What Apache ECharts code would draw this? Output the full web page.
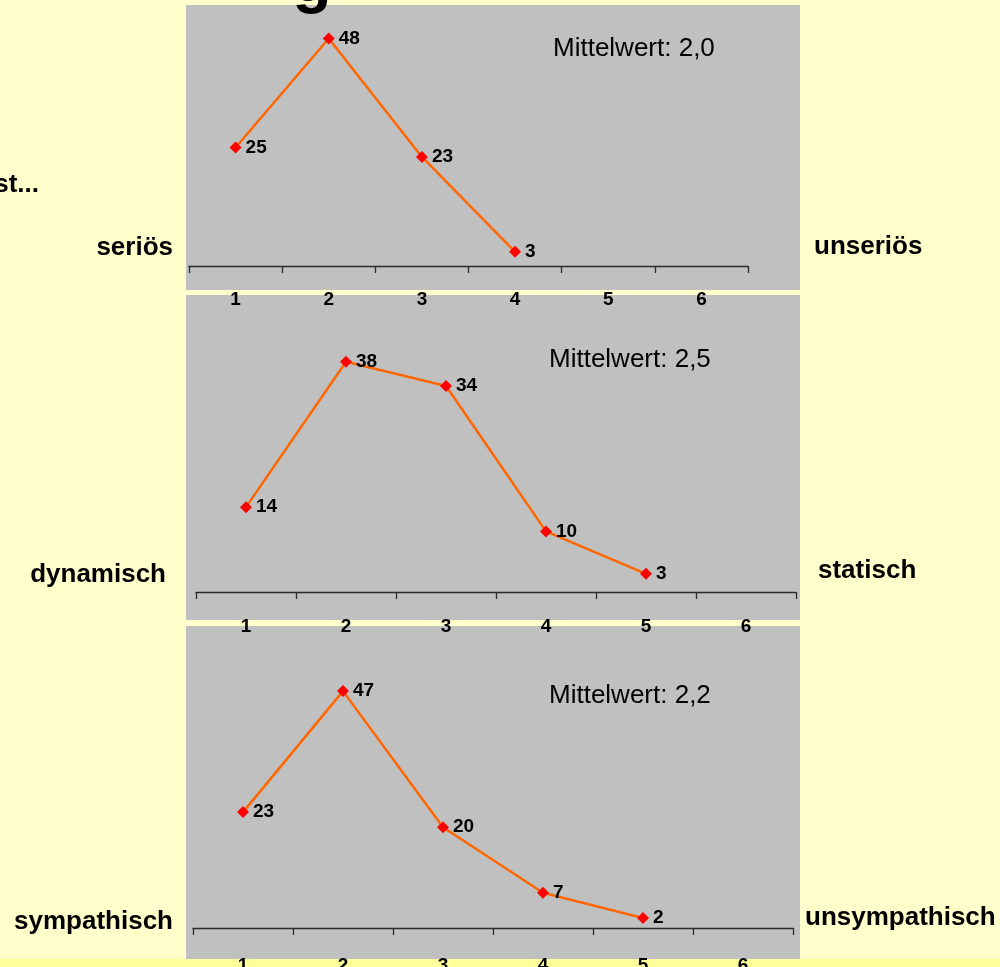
<!DOCTYPE html>
<html>
<head>
<meta charset="utf-8">
<script src="https://cdn.jsdelivr.net/npm/echarts@6/dist/echarts.min.js"></script>
<style>
  html, body { margin: 0; padding: 0; background: #FFFFCC; }
  #chart { width: 1000px; height: 967px; }
</style>
</head>
<body>
<div id="chart"></div>
<script>
// Scale points 1..6
const categories = ['1', '2', '3', '4', '5', '6'];

// Share of answers (%) per scale point
const seriosValues = [25, 48, 23, 3];
const dynamischValues = [14, 38, 34, 10, 3];
const sympathischValues = [23, 47, 20, 7, 2];

// Pole labels and means
const leftPoles = ['seriös', 'dynamisch', 'sympathisch'];
const rightPoles = ['unseriös', 'statisch', 'unsympathisch'];
const meanTexts = ['Mittelwert: 2,0', 'Mittelwert: 2,5', 'Mittelwert: 2,2'];

const FONT = '"Liberation Sans", Arial, sans-serif';

// Panel geometry
const panels = [
  { rect: [186, 5, 614, 285], grid: { left: 189, top: 29, width: 559, height: 237 }, labelMargin: 24,
    left: [173, 248], right: [814, 247], mean: [553, 49] },
  { rect: [186, 295, 614, 325], grid: { left: 196, top: 289, width: 600, height: 303 }, labelMargin: 25,
    left: [166, 575], right: [818, 571], mean: [549, 360] },
  { rect: [186, 626, 614, 333], grid: { left: 193, top: 676, width: 600, height: 252 }, labelMargin: 28,
    left: [173, 922], right: [805, 918], mean: [549, 696] }
];
const seriesData = [seriosValues, dynamischValues, sympathischValues];

const graphic = [];
// bottom band
graphic.push({ type: 'rect', z: -20, shape: { x: 0, y: 959, width: 1000, height: 8 }, style: { fill: '#FFFF99' } });
panels.forEach((p, i) => {
  graphic.push({ type: 'rect', z: -10, shape: { x: p.rect[0], y: p.rect[1], width: p.rect[2], height: p.rect[3] },
    style: { fill: '#C0C0C0' } });
  graphic.push({ type: 'text', z: 50, x: p.left[0], y: p.left[1],
    style: { text: leftPoles[i], font: 'bold 26px ' + FONT, fill: '#000', align: 'right', verticalAlign: 'middle' } });
  graphic.push({ type: 'text', z: 50, x: p.right[0], y: p.right[1],
    style: { text: rightPoles[i], font: 'bold 26px ' + FONT, fill: '#000', align: 'left', verticalAlign: 'middle' } });
  graphic.push({ type: 'text', z: 50, x: p.mean[0], y: p.mean[1],
    style: { text: meanTexts[i], font: '26px ' + FONT, fill: '#000', align: 'left', verticalAlign: 'middle' } });
});
// heading fragments at the page edge
graphic.push({ type: 'text', z: 50, x: 39, y: 185,
  style: { text: 'st...', font: 'bold 26px ' + FONT, fill: '#000', align: 'right', verticalAlign: 'middle' } });
graphic.push({ type: 'text', z: 50, x: 312, y: -17,
  style: { text: 'g', font: 'bold 64px ' + FONT, fill: '#000', align: 'center', verticalAlign: 'middle' } });

const option = {
  backgroundColor: '#FFFFCC',
  animation: false,
  graphic: graphic,
  grid: panels.map(p => Object.assign({ containLabel: false, outerBoundsMode: 'none' }, p.grid)),
  xAxis: panels.map((p, i) => ({
    type: 'category',
    gridIndex: i,
    data: categories,
    boundaryGap: true,
    z: 30,
    axisLine: { show: true, lineStyle: { color: '#2a2a2a', width: 1.3 } },
    axisTick: { show: true, length: 7, inside: false, alignWithLabel: false, lineStyle: { color: '#2a2a2a', width: 1.3 } },
    axisLabel: { show: true, margin: p.labelMargin, color: '#000', fontFamily: FONT, fontWeight: 'bold', fontSize: 19, interval: 0 },
    splitLine: { show: false }
  })),
  yAxis: panels.map((p, i) => ({
    type: 'value',
    gridIndex: i,
    min: 0,
    max: 50,
    show: false,
    splitLine: { show: false }
  })),
  series: seriesData.map((d, i) => ({
    type: 'line',
    xAxisIndex: i,
    yAxisIndex: i,
    data: d,
    z: 10,
    symbol: 'diamond',
    symbolSize: 12,
    showAllSymbol: true,
    lineStyle: { color: '#FF6600', width: 2.5 },
    itemStyle: { color: '#FF0000' },
    label: {
      show: true,
      position: 'right',
      distance: 4,
      color: '#000',
      fontFamily: FONT,
      fontWeight: 'bold',
      fontSize: 19
    }
  }))
};

const chart = echarts.init(document.getElementById('chart'), null, { renderer: 'canvas' });
chart.setOption(option);
</script>
</body>
</html>
